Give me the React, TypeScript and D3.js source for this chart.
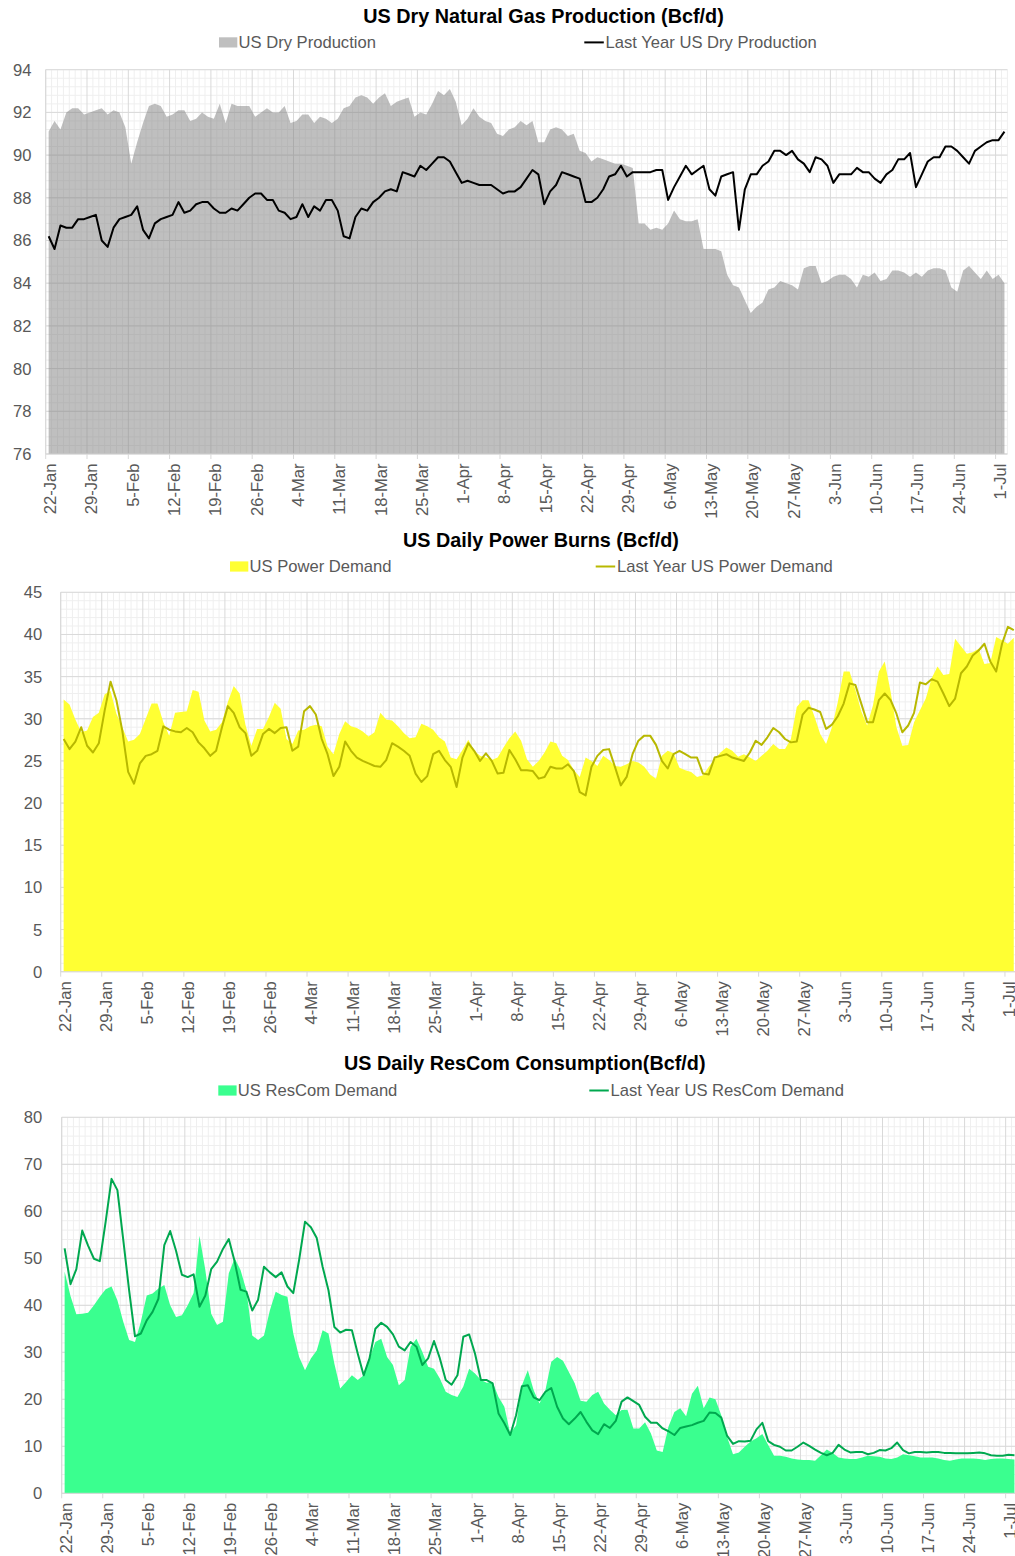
import * as d3 from "d3";

// daily categories, 22-Jan .. 2-Jul (leap year, so 26-Feb + 7 = 4-Mar)
const START = new Date(2024, 0, 22);
const END = new Date(2024, 6, 3);
const DAYS = d3.timeDay.range(START, END);
const fmtDay = d3.timeFormat("%-d-%b");

const dryProduction = [
  91.1, 91.6, 91.2, 92.0, 92.2, 92.2, 91.9, 92.0, 92.1, 92.2,
  91.9, 92.1, 92.0, 91.3, 89.6, 90.6, 91.5, 92.3, 92.4, 92.3,
  91.8, 91.9, 92.1, 92.1, 91.6, 91.7, 92.0, 91.8, 91.7, 92.4,
  91.5, 92.4, 92.3, 92.3, 92.3, 91.8, 92.0, 92.2, 92.0, 92.0,
  92.3, 91.5, 91.6, 91.9, 91.9, 91.5, 91.8, 91.7, 91.5, 91.7,
  92.2, 92.3, 92.7, 92.8, 92.7, 92.4, 92.7, 92.9, 92.3, 92.5,
  92.6, 92.7, 91.8, 92.0, 91.9, 92.4, 93.0, 92.8, 93.1, 92.5,
  91.4, 91.7, 92.2, 91.8, 91.6, 91.5, 91.0, 90.9, 91.2, 91.3,
  91.6, 91.4, 91.6, 90.6, 90.6, 91.2, 91.3, 91.2, 90.9, 91.0,
  90.2, 90.1, 89.7, 89.9, 89.8, 89.7, 89.6, 89.6, 89.5, 89.4,
  86.8, 86.8, 86.5, 86.6, 86.5, 86.8, 87.4, 87.0, 86.9, 86.9,
  87.0, 85.6, 85.6, 85.6, 85.5, 84.4, 83.9, 83.8, 83.2, 82.6,
  82.9, 83.1, 83.7, 83.8, 84.1, 84.0, 83.9, 83.7, 84.7, 84.8,
  84.8, 84.0, 84.1, 84.3, 84.4, 84.4, 84.2, 83.8, 84.4, 84.3,
  84.5, 84.1, 84.2, 84.6, 84.6, 84.5, 84.3, 84.5, 84.3, 84.6,
  84.7, 84.7, 84.6, 83.8, 83.6, 84.6, 84.8, 84.5, 84.2, 84.6,
  84.2, 84.4, 84.0,
];

const dryLastYear = [
  86.2, 85.6, 86.7, 86.6, 86.6, 87.0, 87.0, 87.1, 87.2, 86.0,
  85.7, 86.6, 87.0, 87.1, 87.2, 87.6, 86.5, 86.1, 86.8, 87.0,
  87.1, 87.2, 87.8, 87.3, 87.4, 87.7, 87.8, 87.8, 87.5, 87.3,
  87.3, 87.5, 87.4, 87.7, 88.0, 88.2, 88.2, 87.9, 87.9, 87.4,
  87.3, 87.0, 87.1, 87.7, 87.1, 87.6, 87.4, 87.9, 87.9, 87.4,
  86.2, 86.1, 87.1, 87.5, 87.4, 87.8, 88.0, 88.3, 88.4, 88.3,
  89.2, 89.1, 89.0, 89.5, 89.3, 89.6, 89.9, 89.9, 89.7, 89.2,
  88.7, 88.8, 88.7, 88.6, 88.6, 88.6, 88.4, 88.2, 88.3, 88.3,
  88.5, 88.9, 89.3, 89.1, 87.7, 88.3, 88.6, 89.2, 89.1, 89.0,
  88.9, 87.8, 87.8, 88.0, 88.4, 89.0, 89.1, 89.5, 89.0, 89.2,
  89.2, 89.2, 89.2, 89.3, 89.3, 87.9, 88.5, 89.0, 89.5, 89.1,
  89.3, 89.5, 88.4, 88.1, 89.0, 89.1, 89.2, 86.5, 88.4, 89.1,
  89.1, 89.5, 89.7, 90.2, 90.2, 90.0, 90.2, 89.8, 89.6, 89.2,
  89.9, 89.8, 89.5, 88.7, 89.1, 89.1, 89.1, 89.4, 89.2, 89.2,
  88.9, 88.7, 89.1, 89.3, 89.8, 89.8, 90.1, 88.5, 89.1, 89.7,
  89.9, 89.9, 90.4, 90.4, 90.2, 89.9, 89.6, 90.2, 90.4, 90.6,
  90.7, 90.7, 91.1,
];

const powerDemand = [
  32.3, 31.7, 29.9, 28.4, 28.6, 30.2, 30.7, 32.9, 33.3, 30.6,
  29.0, 27.3, 27.5, 28.2, 30.0, 31.8, 31.8, 29.6, 28.0, 30.7,
  30.8, 30.9, 33.4, 33.2, 29.8, 28.5, 28.7, 29.6, 32.0, 33.9,
  33.0, 29.3, 26.8, 28.8, 28.8, 30.2, 31.9, 31.2, 27.6, 27.0,
  28.6, 28.7, 29.1, 29.3, 29.1, 26.7, 25.8, 28.2, 29.7, 29.1,
  28.9, 28.5, 27.9, 28.4, 30.7, 29.9, 29.8, 29.1, 28.3, 27.7,
  27.8, 29.4, 29.1, 28.7, 27.8, 27.3, 25.4, 25.2, 26.3, 27.5,
  26.2, 25.6, 25.4, 25.1, 25.4, 26.6, 27.7, 28.5, 27.4, 25.2,
  24.3, 25.0, 26.0, 27.3, 27.1, 25.6, 25.1, 23.9, 23.1, 25.4,
  25.0, 24.4, 25.6, 25.1, 24.4, 24.3, 24.6, 25.0, 24.8, 24.3,
  23.4, 22.9, 25.6, 26.2, 25.9, 24.2, 23.9, 23.7, 23.1, 23.3,
  24.3, 25.2, 26.0, 26.6, 26.2, 25.5, 25.8, 25.4, 25.0, 25.6,
  26.2, 27.0, 26.4, 26.4, 27.6, 31.4, 32.2, 32.2, 30.3, 28.2,
  27.0, 29.0, 32.0, 35.6, 35.6, 33.4, 30.9, 29.2, 31.6, 35.6,
  36.8, 33.2, 29.0, 26.8, 26.9, 29.6, 31.0, 32.4, 34.8, 36.2,
  35.2, 35.3, 39.5, 38.6, 37.7, 37.9, 38.3, 36.5, 36.6, 39.7,
  39.3, 38.9, 39.6,
];

const powerLastYear = [
  27.6, 26.4, 27.3, 29.0, 26.8, 26.0, 27.1, 31.0, 34.4, 32.2,
  28.6, 23.7, 22.3, 24.7, 25.6, 25.8, 26.2, 29.1, 28.7, 28.5,
  28.4, 28.9, 28.4, 27.2, 26.5, 25.6, 26.2, 29.0, 31.5, 30.7,
  29.0, 28.3, 25.6, 26.2, 28.2, 28.8, 28.3, 28.9, 29.0, 26.2,
  26.7, 30.9, 31.5, 30.5, 27.6, 25.8, 23.2, 24.3, 27.3, 26.2,
  25.4, 25.0, 24.7, 24.4, 24.3, 25.1, 27.1, 26.7, 26.2, 25.6,
  23.5, 22.5, 23.2, 25.8, 26.2, 25.1, 24.3, 21.9, 25.4, 27.1,
  26.2, 25.0, 25.9, 25.0, 23.5, 23.6, 26.3, 25.2, 23.9, 23.9,
  23.8, 22.9, 23.1, 24.3, 24.1, 24.1, 24.6, 23.8, 21.3, 20.9,
  24.3, 25.6, 26.3, 26.4, 24.3, 22.1, 23.1, 25.8, 27.4, 28.0,
  28.0, 26.9, 25.0, 24.1, 25.8, 26.2, 25.8, 25.4, 25.4, 23.5,
  23.4, 25.4, 25.6, 25.8, 25.4, 25.2, 25.0, 26.0, 27.4, 26.9,
  27.8, 28.9, 28.4, 27.6, 27.2, 27.3, 30.5, 31.3, 31.1, 30.8,
  28.8, 29.3, 30.3, 31.8, 34.2, 34.0, 31.8, 29.6, 29.6, 32.2,
  33.0, 32.2, 30.6, 28.4, 29.2, 30.7, 34.3, 34.1, 34.7, 34.4,
  33.0, 31.5, 32.4, 35.4, 36.2, 37.5, 38.1, 38.9, 36.8, 35.6,
  38.9, 40.9, 40.5,
];

const resComDemand = [
  47.2, 42.0, 38.1, 38.2, 38.4, 40.0, 41.8, 43.4, 44.0, 41.1,
  36.5, 32.6, 32.2, 36.5, 42.1, 42.5, 43.6, 44.3, 40.0, 37.5,
  37.9, 40.0, 42.6, 54.8, 47.5, 38.2, 35.8, 36.5, 46.8, 50.0,
  47.5, 43.2, 33.6, 32.6, 33.6, 38.9, 42.9, 42.2, 41.8, 34.0,
  29.0, 26.2, 28.7, 30.4, 34.7, 34.0, 27.6, 22.3, 23.7, 25.1,
  24.1, 25.1, 28.7, 32.2, 32.9, 29.0, 27.3, 23.0, 24.1, 31.2,
  32.9, 30.1, 26.9, 26.5, 24.4, 21.6, 20.9, 20.5, 22.7, 26.5,
  25.5, 24.1, 23.5, 23.7, 20.5, 18.4, 12.7, 14.5, 23.0, 26.2,
  21.9, 19.1, 21.9, 28.0, 29.0, 28.2, 25.8, 23.4, 19.7, 19.5,
  20.9, 21.6, 19.1, 17.8, 16.6, 17.7, 17.8, 13.8, 13.8, 15.1,
  12.7, 9.1, 8.8, 14.2, 17.3, 18.1, 16.4, 21.2, 22.9, 18.1,
  20.4, 20.0, 16.6, 12.0, 8.3, 8.7, 9.9, 11.0, 11.7, 12.6,
  10.3, 8.0, 8.0, 7.8, 7.4, 7.2, 7.1, 7.1, 6.9, 8.1,
  9.3, 8.6, 7.6, 7.4, 7.3, 7.3, 7.6, 8.0, 7.9, 7.8,
  7.4, 7.3, 7.6, 8.3, 8.1, 7.9, 7.6, 7.6, 7.6, 7.4,
  7.1, 6.9, 7.2, 7.4, 7.4, 7.4, 7.3, 7.1, 7.3, 7.4,
  7.4, 7.3, 7.2,
];

const resComLastYear = [
  52.1, 44.5, 47.7, 55.9, 52.7, 49.9, 49.4, 57.8, 66.9, 64.5,
  53.9, 43.2, 33.4, 34.0, 36.8, 38.6, 41.4, 52.8, 55.8, 51.6,
  46.5, 46.0, 46.6, 39.7, 42.1, 47.7, 49.3, 52.0, 54.1, 49.3,
  43.3, 42.9, 38.9, 41.2, 48.2, 47.0, 46.0, 47.0, 44.0, 42.6,
  49.7, 57.8, 56.6, 54.3, 48.2, 43.2, 35.4, 34.2, 34.8, 34.7,
  29.7, 25.1, 28.7, 35.0, 36.3, 35.4, 33.8, 31.2, 30.4, 32.2,
  31.2, 27.3, 28.7, 32.4, 28.7, 24.1, 23.1, 25.1, 33.3, 33.8,
  29.7, 24.1, 24.1, 23.4, 17.0, 14.9, 12.4, 16.6, 22.8, 23.0,
  20.4, 19.8, 21.6, 22.4, 18.4, 15.9, 14.7, 15.9, 17.3, 15.2,
  13.4, 12.6, 14.7, 13.9, 15.4, 19.5, 20.4, 19.6, 18.8, 16.3,
  15.0, 15.0, 13.8, 13.2, 12.4, 13.9, 14.2, 14.5, 15.0, 15.4,
  17.2, 17.1, 16.1, 12.2, 10.5, 11.1, 11.0, 11.2, 13.6, 15.0,
  11.1, 10.3, 9.9, 9.1, 9.1, 9.9, 10.8, 10.1, 9.3, 8.6,
  8.1, 8.6, 10.3, 9.3, 8.7, 8.8, 8.8, 8.3, 8.6, 9.2,
  9.1, 9.6, 10.8, 9.2, 8.5, 8.8, 8.8, 8.7, 8.8, 8.8,
  8.6, 8.6, 8.5, 8.5, 8.5, 8.6, 8.7, 8.5, 8.1, 8.0,
  8.0, 8.2, 8.1,
];

const FONT = '"Liberation Sans", Arial, Helvetica, sans-serif';
const TEXT = "#595959";
const GRID_MAJOR = "#d9d9d9";
const GRID_MINOR = "#efefef";

type PanelProps = {
  title: string;
  titleX: number;
  titleY: number;
  legendY: number;
  areaKeyX: number;
  lineKeyX: number;
  areaName: string;
  lineName: string;
  left: number;
  step: number;
  top: number;
  bottom: number;
  yMin: number;
  yMax: number;
  major: number;
  minor: number;
  labelX: number;
  area: number[];
  line: number[];
  areaFill: string;
  areaOpacity: number;
  lineColor: string;
};

const Panel = (p: PanelProps) => {
  const n = DAYS.length;
  const x = d3
    .scaleBand<number>()
    .domain(d3.range(n))
    .range([p.left, p.left + n * p.step]);
  const y = d3.scaleLinear().domain([p.yMin, p.yMax]).range([p.bottom, p.top]);
  const cx = (i: number) => (x(i) as number) + x.bandwidth() / 2;

  const areaPath = d3
    .area<number>()
    .x((_, i) => cx(i))
    .y0(y(p.yMin))
    .y1((d) => y(d))(p.area);
  const linePath = d3
    .line<number>()
    .x((_, i) => cx(i))
    .y((d) => y(d))(p.line);

  const nMinor = Math.round((p.yMax - p.yMin) / p.minor);
  const minorY = d3.range(nMinor + 1).map((k) => p.yMin + k * p.minor);
  const majorY = d3.range(Math.round((p.yMax - p.yMin) / p.major) + 1).map((k) => p.yMin + k * p.major);
  const bounds = d3.range(n + 1).map((i) => p.left + i * x.step());
  const weekly = d3.range(n).filter((i) => i % 7 === 0);
  const xEnd = p.left + n * x.step();

  return (
    <g fontFamily={FONT}>
      <text x={p.titleX} y={p.titleY} textAnchor="middle" fontSize={19.8} fontWeight="bold" fill="#000">
        {p.title}
      </text>

      {/* legend */}
      <rect x={p.areaKeyX} y={p.legendY - 5.1} width={18.3} height={10.2} fill={p.areaFill} opacity={p.areaOpacity} />
      <text x={p.areaKeyX + 19.5} y={p.legendY + 5.9} fontSize={16.6} fill={TEXT}>
        {p.areaName}
      </text>
      <line x1={p.lineKeyX} x2={p.lineKeyX + 19.5} y1={p.legendY} y2={p.legendY} stroke={p.lineColor} strokeWidth={2} />
      <text x={p.lineKeyX + 21.3} y={p.legendY + 5.9} fontSize={16.6} fill={TEXT}>
        {p.lineName}
      </text>

      {/* grid */}
      {minorY.map((v, k) => (
        <line key={`hm${k}`} x1={p.left} x2={xEnd} y1={y(v)} y2={y(v)} stroke={GRID_MINOR} />
      ))}
      {bounds.map((bx, i) =>
        i % 7 === 0 ? null : (
          <line key={`vm${i}`} x1={bx} x2={bx} y1={p.top} y2={p.bottom} stroke={GRID_MINOR} />
        )
      )}
      {majorY.map((v, k) => (
        <line key={`hM${k}`} x1={p.left} x2={xEnd} y1={y(v)} y2={y(v)} stroke={GRID_MAJOR} />
      ))}
      {weekly.map((i) => (
        <line key={`vM${i}`} x1={x(i)} x2={x(i)} y1={p.top} y2={p.bottom + 5} stroke={GRID_MAJOR} />
      ))}

      <path d={areaPath ?? ""} fill={p.areaFill} opacity={p.areaOpacity} />
      <path d={linePath ?? ""} fill="none" stroke={p.lineColor} strokeWidth={2} strokeLinejoin="round" />

      {/* axes */}
      <line x1={p.left} x2={xEnd} y1={p.bottom} y2={p.bottom} stroke={GRID_MAJOR} />
      <line x1={p.left} x2={p.left} y1={p.top} y2={p.bottom} stroke={GRID_MAJOR} />
      {majorY.map((v, k) => (
        <text key={`yl${k}`} x={p.labelX} y={y(v)} dy="0.36em" textAnchor="end" fontSize={16.6} fill={TEXT}>
          {v}
        </text>
      ))}
      {weekly.map((i) => (
        <text
          key={`xl${i}`}
          transform={`translate(${cx(i) + 1.5},${p.bottom + 9.5}) rotate(-90)`}
          dy="0.36em"
          textAnchor="end"
          fontSize={16.6}
          fill={TEXT}
        >
          {fmtDay(DAYS[i])}
        </text>
      ))}
    </g>
  );
};

export default function App() {
  return (
    <div style={{ position: "absolute", left: 0, top: 0 }}>
      <svg width={1015} height={1556} style={{ display: "block", background: "#fff" }}>
        <Panel
          title="US Dry Natural Gas Production (Bcf/d)"
          titleX={543.5}
          titleY={22.7}
          legendY={42.4}
          areaKeyX={219}
          lineKeyX={584.3}
          areaName="US Dry Production"
          lineName="Last Year US Dry Production"
          left={45.7}
          step={5.9}
          top={69.7}
          bottom={454}
          yMin={76}
          yMax={94}
          major={2}
          minor={0.4}
          labelX={31.5}
          area={dryProduction}
          line={dryLastYear}
          areaFill="#808080"
          areaOpacity={0.5}
          lineColor="#000000"
        />
        <Panel
          title="US Daily Power Burns (Bcf/d)"
          titleX={541}
          titleY={546.5}
          legendY={566.5}
          areaKeyX={230}
          lineKeyX={595.7}
          areaName="US Power Demand"
          lineName="Last Year US Power Demand"
          left={60.7}
          step={5.865}
          top={592.3}
          bottom={971.7}
          yMin={0}
          yMax={45}
          major={5}
          minor={1}
          labelX={42.2}
          area={powerDemand}
          line={powerLastYear}
          areaFill="#ffff33"
          areaOpacity={1}
          lineColor="#b8b800"
        />
        <Panel
          title="US Daily ResCom Consumption(Bcf/d)"
          titleX={524.7}
          titleY={1070.3}
          legendY={1090.5}
          areaKeyX={218.3}
          lineKeyX={589.3}
          areaName="US ResCom Demand"
          lineName="Last Year US ResCom Demand"
          left={61.7}
          step={5.863}
          top={1117.3}
          bottom={1493.3}
          yMin={0}
          yMax={80}
          major={10}
          minor={2}
          labelX={42.2}
          area={resComDemand}
          line={resComLastYear}
          areaFill="#3aff8f"
          areaOpacity={1}
          lineColor="#00a84f"
        />
      </svg>
    </div>
  );
}
